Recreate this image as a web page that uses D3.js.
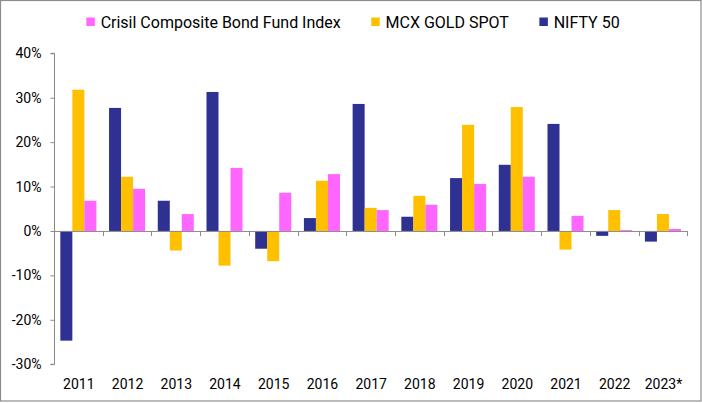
<!DOCTYPE html>
<html>
<head>
<meta charset="utf-8">
<script src="https://cdn.jsdelivr.net/npm/d3@7"></script>
<style>
  html, body { margin: 0; padding: 0; background: #fff; }
  svg { display: block; font-family: Roboto, "Liberation Sans", Arial, sans-serif; }
</style>
</head>
<body>
<svg id="chart" width="702" height="403"></svg>
<script>
const years = ["2011","2012","2013","2014","2015","2016","2017","2018","2019","2020","2021","2022","2023*"];
const nifty = [-24.7, 27.7, 6.8, 31.3, -4.0, 2.9, 28.6, 3.2, 11.9, 14.9, 24.1, -1.1, -2.4];
const gold  = [31.8, 12.2, -4.4, -7.8, -6.8, 11.3, 5.2, 7.9, 23.9, 27.9, -4.2, 4.7, 3.8];
const crisil = [6.8, 9.5, 3.8, 14.2, 8.6, 12.8, 4.7, 5.9, 10.6, 12.2, 3.4, 0.2, 0.45];
const yTicks = [-30, -20, -10, 0, 10, 20, 30, 40];
const seriesNames = ["NIFTY 50", "MCX GOLD SPOT", "Crisil Composite Bond Fund Index"];
const seriesColors = ["#2E3192", "#FFC000", "#FF66FF"];
const legendOrder = [2, 1, 0];

const svg = d3.select("#chart");
const pLeft = 54, pRight = 687.3, pTop = 53.3, pBottom = 364.2;

// border
svg.append("rect").attr("x", 0.5).attr("y", 0.5).attr("width", 700.5).attr("height", 400.5)
  .attr("fill", "none").attr("stroke", "#8c8c8c").attr("stroke-width", 1.2);

const x = d3.scaleBand().domain(years).range([pLeft, pRight]).padding(0);
const inner = d3.scaleBand().domain(d3.range(3)).range([0, x.bandwidth() * 0.74]);
const groupOffset = x.bandwidth() * 0.13;
const y = d3.scaleLinear().domain([-30, 40]).range([pBottom, pTop]);

const data = [nifty, gold, crisil];

// bars
const g = svg.append("g");
years.forEach((yr, i) => {
  data.forEach((s, k) => {
    const v = s[i];
    g.append("rect")
      .attr("x", x(yr) + groupOffset + inner(k))
      .attr("width", inner.bandwidth())
      .attr("y", y(Math.max(0, v)))
      .attr("height", Math.abs(y(v) - y(0)))
      .attr("fill", seriesColors[k]);
  });
});

const axisColor = "#8a8a8a";
// y axis
const yAxis = d3.axisLeft(y).tickValues(yTicks).tickSize(4).tickPadding(9)
  .tickFormat(d => d + "%");
const ya = svg.append("g").attr("transform", `translate(${pLeft + 0.5},0)`).call(yAxis);
ya.select(".domain").attr("stroke", axisColor).attr("d", `M-4,${y(40)}H0V${y(-30)}H-4`);
ya.selectAll(".tick line").attr("stroke", axisColor);
ya.selectAll(".tick text").attr("fill", "#000").style("font-size", "14px")
  .style("font-family", "Roboto, 'Liberation Sans', Arial, sans-serif");

// x axis at zero line with boundary ticks
const za = svg.append("g");
za.append("line").attr("x1", pLeft).attr("x2", pRight).attr("y1", y(0) + 0.5).attr("y2", y(0) + 0.5)
  .attr("stroke", axisColor).attr("stroke-width", 1);
years.forEach((yr, i) => {
  const bx = Math.round(x(yr) + x.bandwidth()) + 0.5;
  za.append("line").attr("x1", bx).attr("x2", bx).attr("y1", y(0)).attr("y2", y(0) + 5)
    .attr("stroke", axisColor);
});
// x labels
svg.append("g").selectAll("text").data(years).join("text")
  .attr("x", d => x(d) + x.bandwidth() / 2 + 0.5)
  .attr("y", 384)
  .attr("dy", "0.35em")
  .attr("text-anchor", "middle")
  .style("font-size", "14px")
  .attr("fill", "#000")
  .text(d => d);

// legend
const lg = svg.append("g");
const items = legendOrder.map(k => {
  const it = lg.append("g");
  it.append("rect").attr("width", 8.5).attr("height", 8.5).attr("y", 17.5).attr("fill", seriesColors[k]);
  const t = it.append("text").attr("x", 14.3).attr("y", 22).attr("dy", "0.35em")
    .style("font-size", "16px").attr("fill", "#000").text(seriesNames[k]);
  return { it, w: 14.3 + t.node().getComputedTextLength() };
});
const gap = 30.5;
const total = d3.sum(items, d => d.w) + gap * (items.length - 1);
let cx = 353 - total / 2;
items.forEach(d => { d.it.attr("transform", `translate(${cx},0)`); cx += d.w + gap; });
</script>
</body>
</html>
